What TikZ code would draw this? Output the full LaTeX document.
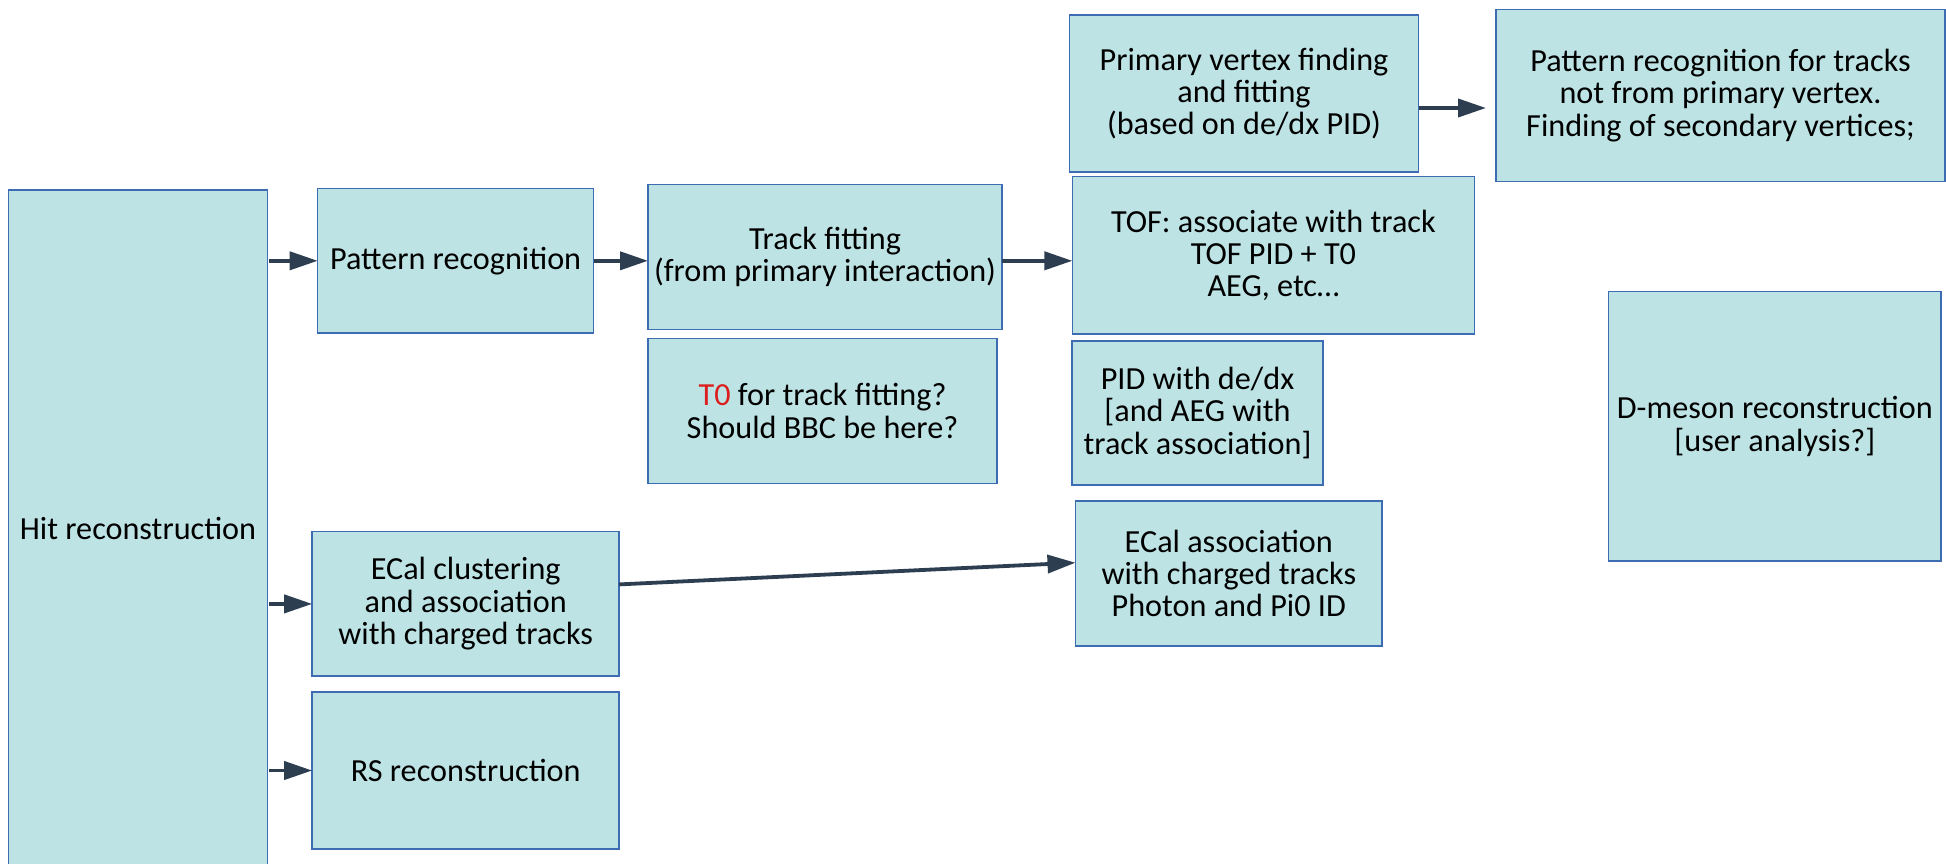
\documentclass[tikz,border=0pt]{standalone}
\usepackage{fontspec}
\setmainfont{Carlito}
\usetikzlibrary{arrows.meta,calc}
\definecolor{boxfill}{RGB}{189,227,228}
\definecolor{boxline}{RGB}{62,108,178}
\definecolor{arrowcol}{RGB}{44,62,80}
\definecolor{redtxt}{RGB}{220,30,30}
\tikzset{
  stage/.style={draw=boxline, fill=boxfill, line width=0.75pt, inner sep=0pt, outer sep=0pt,
    align=center, font=\fontsize{16.1}{16.2}\selectfont, text=black},
  flow/.style={draw=arrowcol, line width=1.9pt, -{Triangle[length=14pt,width=9pt]}}
}
\begin{document}
\begin{tikzpicture}[x=0.5pt,y=-0.5pt]
\useasboundingbox (0,0) rectangle (1946,863);
\fill[white] (0,0) rectangle (1946,863);

% boxes
\node[stage, minimum width=129.3pt, minimum height=338pt] (hit) at (138,528) {Hit reconstruction};
\node[stage, minimum width=137.9pt, minimum height=72.2pt] (pat) at (455.6,260.8) {Pattern recognition};
\node[stage, minimum width=177pt, minimum height=72.4pt] (tf) at (825,256.9) {Track fitting\\(from primary interaction)};
\node[stage, minimum width=174.5pt, minimum height=72.7pt] (t0) at (822.5,411) {{\color{redtxt}T0} for track fitting?\\Should BBC be here?};
\node[stage, minimum width=174.5pt, minimum height=78.5pt] (pv) at (1244,93.5) {Primary vertex finding\\and fitting\\(based on de/dx PID)};
\node[stage, minimum width=224.5pt, minimum height=86.2pt] (sec) at (1720.5,95.5) {Pattern recognition for tracks\\not from primary vertex.\\Finding of secondary vertices;};
\node[stage, minimum width=201pt, minimum height=78.6pt] (tof) at (1273.4,255.3) {TOF: associate with track\\TOF PID + T0\\AEG, etc…};
\node[stage, minimum width=125.5pt, minimum height=72pt] (pid) at (1197.5,413) {PID with de/dx\\{}[and AEG with\\track association]};
\node[stage, minimum width=166.3pt, minimum height=134.7pt] (dm) at (1774.8,426.4) {D-meson reconstruction\\{}[user analysis?]};
\node[stage, minimum width=153.5pt, minimum height=72.2pt] (ecc) at (465.7,603.9) {ECal clustering\\and association\\with charged tracks};
\node[stage, minimum width=153.3pt, minimum height=72.4pt] (eca) at (1228.8,573.4) {ECal association\\with charged tracks\\Photon and Pi0 ID};
\node[stage, minimum width=153.5pt, minimum height=78.5pt] (rs) at (465.7,770.5) {RS reconstruction};

% connectors
\draw[flow, shorten <=1pt] (hit.east |- pat.west) -- (pat.west);
\draw[flow] (pat.east) -- (pat.east -| tf.west);
\draw[flow] (tf.east |- pat.east) -- (tof.west |- pat.east);
\draw[flow] ($(pv.east)+(0,14.5)$) -- ($(sec.west)+(-10,12.5)$);
\draw[flow, shorten <=1pt] (hit.east |- ecc.west) -- (ecc.west);
\draw[flow, shorten <=1pt] (hit.east |- rs.west) -- (rs.west);
\draw[flow] ($(ecc.east)+(0,-19.5)$) -- ($(eca.west)+(0,-10.7)$);
\end{tikzpicture}
\end{document}
